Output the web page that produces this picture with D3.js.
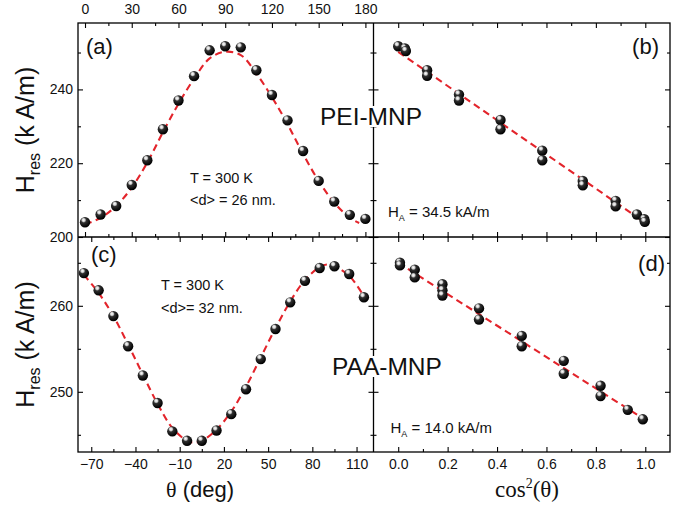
<!DOCTYPE html>
<html><head><meta charset="utf-8">
<script src="https://cdn.jsdelivr.net/npm/d3@7"></script>
<style>body{margin:0;background:#fff}svg{display:block}</style>
</head><body>
<svg id="c" width="675" height="507"></svg>
<script>
// ---- data ----
const thetaA = [0,10,20,30,40,50,60,70,80,90,100,110,120,130,140,150,160,170,180];
const hresA  = [204.0,206.1,208.4,214.1,220.8,229.2,237.0,243.6,250.6,251.7,251.4,245.2,238.5,231.6,223.3,215.2,209.6,206.0,204.9];
const fitThetaA = [0,10,20,30,40,50,60,70,80,90,100,110,120,130,140,150,160,170,176];
const fitHresA  = [203.4,205.2,208.4,213.4,220.2,228.4,236.1,242.9,248.4,250.2,249.3,244.3,237.9,230.6,222.5,215.2,209.3,205.2,203.8];

const cos2B = [0.0,0.027,0.031,0.117,0.117,0.246,0.246,0.414,0.414,0.583,0.583,0.747,0.747,0.88,0.88,0.966,0.996,0.998];
const hresB = [251.7,251.1,250.4,245.2,243.7,238.6,237.0,231.7,229.2,223.4,220.8,215.2,214.0,209.8,208.3,206.1,204.8,204.1];
const fitCos2B = [0.0,0.99];
const fitHresB = [250.2,204.3];

const thetaC = [-75,-65,-55,-45,-35,-25,-15,-5,5,15,25,35,45,55,65,75,85,95,105,115];
const hresC  = [263.8,261.8,258.8,255.3,251.9,248.7,245.4,244.3,244.3,245.5,247.4,250.3,253.8,257.3,260.4,262.9,264.4,264.6,263.7,261.0];
const fitThetaC = [-75,-65,-55,-45,-35,-25,-15,-5,0,5,15,25,35,45,55,65,75,85,90,95,105,115];
const fitHresC  = [263.6,261.5,258.8,255.5,252.0,248.6,245.8,244.3,244.1,244.3,245.6,247.7,250.6,254.0,257.4,260.5,263.0,264.5,264.8,264.6,263.5,261.1];

const cos2D = [0.007,0.007,0.067,0.067,0.179,0.179,0.179,0.327,0.327,0.5,0.5,0.67,0.67,0.819,0.819,0.929,0.99];
const hresD = [265.0,264.7,264.2,263.3,262.5,261.8,261.2,259.7,258.4,256.5,255.3,253.6,252.1,250.7,249.5,247.9,246.8];
const fitCos2D = [0.0,0.98];
const fitHresD = [265.0,247.1];

const thetaTopMajor = [0,30,60,90,120,150,180];
const thetaTopMinor = [15,45,75,105,135,165];
const thetaBotMajor = [-70,-40,-10,20,50,80,110];
const thetaBotMinor = [-55,-25,5,35,65,95];
const cosMajor = [0,0.2,0.4,0.6,0.8,1.0];
const cosMinor = [0.1,0.3,0.5,0.7,0.9];
const yTopMajor = [200,220,240];
const yTopMinor = [210,230,250];
const yBotMajor = [250,260];
const yBotMinor = [245,255,265];

// ---- layout ----
const L = 78, M = 373.5, R = 670, T = 23, MID = 237, B = 452;
const SANS = "'Liberation Sans', Arial, sans-serif";
const SERIF = "'Liberation Serif', 'Times New Roman', serif";
const RED = "#e3242b";

const svg = d3.select("#c");
const defs = svg.append("defs");
const grad = defs.append("radialGradient").attr("id","sph")
  .attr("cx","38%").attr("cy","32%").attr("r","65%").attr("fx","36%").attr("fy","28%");
grad.append("stop").attr("offset","0%").attr("stop-color","#ffffff");
grad.append("stop").attr("offset","22%").attr("stop-color","#d0d0d0");
grad.append("stop").attr("offset","40%").attr("stop-color","#303030");
grad.append("stop").attr("offset","100%").attr("stop-color","#000000");

const xA = d3.scaleLinear().domain([-4.5,185.2]).range([L,M]);
const xC = d3.scaleLinear().domain([-79,121.5]).range([L,M]);
const xR = d3.scaleLinear().domain([-0.1,1.1]).range([M,R]);
const yTop = d3.scaleLinear().domain([200,258]).range([MID,T]);
const yBot = d3.scaleLinear().domain([243,268]).range([B,MID]);

function axis(gen, tr, labels) {
  const g = svg.append("g").attr("transform", tr).call(gen);
  g.select(".domain").remove();
  g.selectAll("line").attr("stroke","#000").attr("stroke-width",1.1);
  if (!labels) g.selectAll("text").remove();
  else g.selectAll("text").attr("font-family",SANS).attr("font-size",14).attr("fill","#111");
  return g;
}
function panelAxes(x, y, x0, x1, y0, y1, xMaj, xMin, yMaj, yMin, lab) {
  const fx = lab.fx || null;
  axis(d3.axisBottom(x).tickValues(xMaj).tickSize(-5).tickPadding(7).tickFormat(fx), `translate(0,${y1})`, lab.bottom);
  axis(d3.axisBottom(x).tickValues(xMin).tickSize(-3).tickFormat(""), `translate(0,${y1})`, false);
  axis(d3.axisTop(x).tickValues(xMaj).tickSize(-5).tickPadding(9.5).tickFormat(fx), `translate(0,${y0})`, lab.top);
  axis(d3.axisTop(x).tickValues(xMin).tickSize(-3).tickFormat(""), `translate(0,${y0})`, false);
  axis(d3.axisLeft(y).tickValues(yMaj).tickSize(-5).tickPadding(5), `translate(${x0},0)`, lab.left);
  axis(d3.axisLeft(y).tickValues(yMin).tickSize(-3).tickFormat(""), `translate(${x0},0)`, false);
  axis(d3.axisRight(y).tickValues(yMaj).tickSize(-5).tickFormat(""), `translate(${x1},0)`, false);
  axis(d3.axisRight(y).tickValues(yMin).tickSize(-3).tickFormat(""), `translate(${x1},0)`, false);
}

panelAxes(xA, yTop, L, M, T, MID, thetaTopMajor, thetaTopMinor, yTopMajor, yTopMinor, {top:true,left:true});
panelAxes(xR, yTop, M, R, T, MID, cosMajor, cosMinor, yTopMajor, yTopMinor, {});
panelAxes(xC, yBot, L, M, MID, B, thetaBotMajor, thetaBotMinor, yBotMajor, yBotMinor, {bottom:true,left:true});
panelAxes(xR, yBot, M, R, MID, B, cosMajor, cosMinor, yBotMajor, yBotMinor, {bottom:true, fx:d3.format(".1f")});

// frames
svg.append("rect").attr("x",L).attr("y",T).attr("width",R-L).attr("height",B-T)
  .attr("fill","none").attr("stroke","#000").attr("stroke-width",1.3);
svg.append("line").attr("x1",M).attr("x2",M).attr("y1",T).attr("y2",B).attr("stroke","#000").attr("stroke-width",1.3);
svg.append("line").attr("x1",L).attr("x2",R).attr("y1",MID).attr("y2",MID).attr("stroke","#000").attr("stroke-width",1.3);

// fits + points
function series(xs, ys, fx, fy, x, y) {
  const line = d3.line().x((d,i)=>x(fx[i])).y((d,i)=>y(fy[i])).curve(d3.curveCatmullRom);
  svg.append("path").datum(fx).attr("d",line).attr("fill","none").attr("stroke",RED)
    .attr("stroke-width",2.1).attr("stroke-dasharray","7,4.5");
  svg.append("g").selectAll("circle").data(xs).join("circle")
    .attr("cx",d=>x(d)).attr("cy",(d,i)=>y(ys[i])).attr("r",5.2).attr("fill","url(#sph)");
}
series(thetaA, hresA, fitThetaA, fitHresA, xA, yTop);
series(cos2B, hresB, fitCos2B, fitHresB, xR, yTop);
series(thetaC, hresC, fitThetaC, fitHresC, xC, yBot);
series(cos2D, hresD, fitCos2D, fitHresD, xR, yBot);

// texts
function txt(x, y, s, size, anchor, fam) {
  return svg.append("text").attr("x",x).attr("y",y).attr("font-family",fam||SANS)
    .attr("font-size",size).attr("text-anchor",anchor||"start").attr("fill","#111").text(s);
}
function boxed(x, y, s, size) {
  const t = txt(x, y, s, size, "middle");
  const bb = t.node().getBBox();
  svg.insert("rect", () => t.node()).attr("x",bb.x).attr("y",bb.y+3).attr("width",bb.width)
    .attr("height",bb.height-6).attr("fill","#fff");
}
txt(86,54,"(a)",22);
txt(659,54,"(b)",22,"end");
txt(91,262,"(c)",22);
txt(665,271,"(d)",22,"end");
boxed(371,125,"PEI-MNP",24.5);
boxed(387,375,"PAA-MNP",24.5);
txt(190,183,"T = 300 K",14.5);
txt(190,205,"<d> = 26 nm.",14.5);
txt(161,290,"T = 300 K",14.5);
txt(161,312.5,"<d>= 32 nm.",14.5);

function hA(x, y, rest) {
  const t = svg.append("text").attr("x",x).attr("y",y).attr("font-family",SANS).attr("font-size",15).attr("fill","#111");
  t.append("tspan").text("H");
  t.append("tspan").attr("font-size",9).attr("dy",4).text("A");
  t.append("tspan").attr("dy",-4).text(rest);
}
hA(388,216.5," = 34.5 kA/m");
hA(390.5,432.5," = 14.0 kA/m");

function ylab(cy) {
  const t = svg.append("text").attr("transform",`translate(34,${cy}) rotate(-90)`)
    .attr("text-anchor","middle").attr("font-family",SANS).attr("font-size",25).attr("fill","#111");
  t.append("tspan").text("H");
  t.append("tspan").attr("font-size",16).attr("dy",6).text("res");
  t.append("tspan").attr("dy",-6).text(" (k A/m)");
}
ylab(130);
ylab(344.5);

const xt = svg.append("text").attr("x",200).attr("y",497).attr("text-anchor","middle")
  .attr("font-size",22).attr("fill","#111");
xt.append("tspan").attr("font-family",SERIF).text("θ");
xt.append("tspan").attr("font-family",SANS).text(" (deg)");
const ct = svg.append("text").attr("x",527).attr("y",497).attr("text-anchor","middle")
  .attr("font-family",SERIF).attr("font-size",23).attr("fill","#111");
ct.append("tspan").text("cos");
ct.append("tspan").attr("font-size",14).attr("dy",-9).text("2");
ct.append("tspan").attr("dy",9).text("(θ)");
</script>
</body></html>
